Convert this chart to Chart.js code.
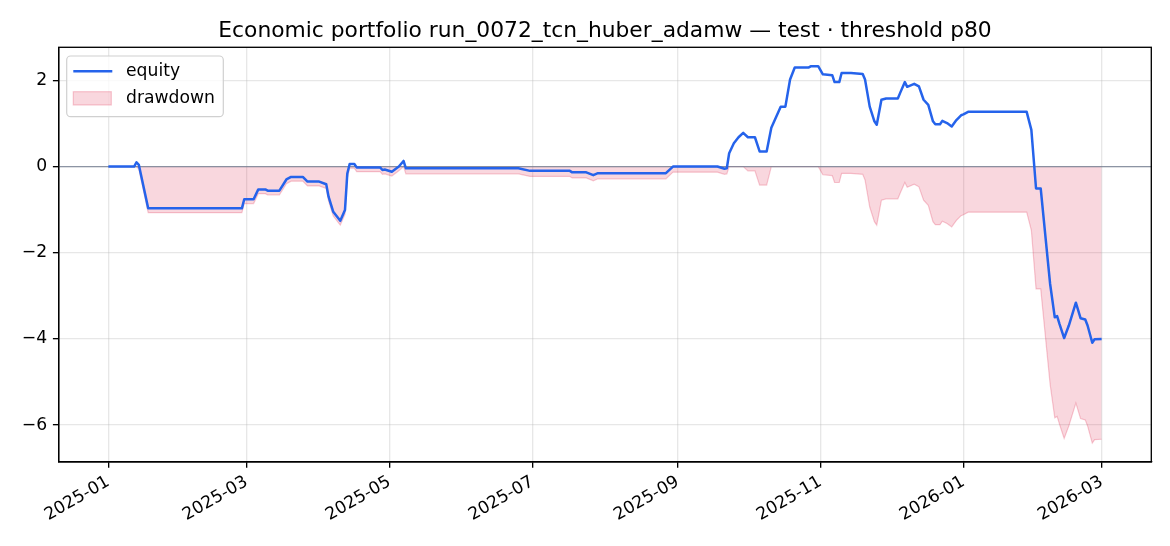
<!DOCTYPE html>
<html><head><meta charset="utf-8">
<script src="https://cdn.jsdelivr.net/npm/chart.js@4.4.1/dist/chart.umd.min.js"></script>
<style>html,body{margin:0;padding:0;background:#fff;}#wrap{width:1170px;height:546px;}</style>
</head><body><div id="wrap"><canvas id="c" width="1170" height="546"></canvas></div>
<script>
const TITLE = "Economic portfolio run_0072_tcn_huber_adamw — test · threshold p80";
const seriesLabels = ["equity", "drawdown"];
const xTickLabels = ["2025-01","2025-03","2025-05","2025-07","2025-09","2025-11","2026-01","2026-03"];
const yTickValues = [-6, -4, -2, 0, 2];

const dates = [
"2025-01-01","2025-01-12","2025-01-13","2025-01-14","2025-01-18","2025-02-27","2025-02-28","2025-03-04","2025-03-06","2025-03-09",
"2025-03-10","2025-03-15","2025-03-18","2025-03-20","2025-03-25","2025-03-27","2025-04-01","2025-04-04","2025-04-05","2025-04-07",
"2025-04-10","2025-04-12","2025-04-13","2025-04-14","2025-04-16","2025-04-17","2025-04-27","2025-04-28","2025-04-29","2025-05-02",
"2025-05-05","2025-05-07","2025-05-08","2025-06-25","2025-06-30","2025-07-17","2025-07-18","2025-07-24","2025-07-27","2025-07-29",
"2025-08-27","2025-08-30","2025-09-18","2025-09-21","2025-09-22","2025-09-23","2025-09-25","2025-09-27","2025-09-29","2025-10-01",
"2025-10-04","2025-10-06","2025-10-09","2025-10-11","2025-10-15","2025-10-17","2025-10-19","2025-10-21","2025-10-27","2025-10-28",
"2025-10-31","2025-11-02","2025-11-06","2025-11-07","2025-11-09","2025-11-10","2025-11-14","2025-11-19","2025-11-20","2025-11-22",
"2025-11-24","2025-11-25","2025-11-27","2025-11-29","2025-12-04","2025-12-05","2025-12-07","2025-12-08","2025-12-11","2025-12-13",
"2025-12-15","2025-12-17","2025-12-19","2025-12-20","2025-12-22","2025-12-23","2025-12-25","2025-12-27","2025-12-29","2025-12-31",
"2026-01-01","2026-01-03","2026-01-28","2026-01-30","2026-02-01","2026-02-03","2026-02-06","2026-02-07","2026-02-09","2026-02-10",
"2026-02-11","2026-02-13","2026-02-15","2026-02-18","2026-02-20","2026-02-22","2026-02-23","2026-02-25","2026-02-26","2026-03-01"
];

const equity = [
0.00,0.00,0.10,0.04,-0.97,-0.97,-0.76,-0.76,-0.53,-0.53,
-0.56,-0.56,-0.30,-0.24,-0.24,-0.35,-0.35,-0.41,-0.70,-1.05,
-1.26,-1.01,-0.16,0.06,0.06,-0.02,-0.02,-0.08,-0.07,-0.12,
0.00,0.13,-0.04,-0.04,-0.10,-0.10,-0.135,-0.135,-0.20,-0.155,
-0.155,0.00,0.00,-0.05,-0.04,0.31,0.54,0.68,0.78,0.68,
0.68,0.35,0.35,0.90,1.39,1.39,2.02,2.30,2.30,2.33,
2.33,2.14,2.12,1.96,1.96,2.17,2.17,2.15,2.02,1.39,
1.05,0.97,1.55,1.58,1.58,1.71,1.96,1.85,1.92,1.86,
1.55,1.43,1.05,0.98,0.98,1.06,1.01,0.93,1.08,1.19,
1.21,1.27,1.27,0.85,-0.51,-0.51,-2.17,-2.72,-3.50,-3.47,
-3.65,-3.98,-3.69,-3.16,-3.52,-3.55,-3.69,-4.09,-4.01,-4.00
];

const drawdown = [
0.00,0.00,0.00,-0.06,-1.07,-1.07,-0.86,-0.86,-0.63,-0.63,
-0.66,-0.66,-0.40,-0.34,-0.34,-0.45,-0.45,-0.51,-0.80,-1.15,
-1.36,-1.11,-0.26,-0.04,-0.04,-0.12,-0.12,-0.18,-0.17,-0.22,
-0.10,0.00,-0.17,-0.17,-0.23,-0.23,-0.265,-0.265,-0.33,-0.285,
-0.285,-0.13,-0.13,-0.18,-0.17,0.00,0.00,0.00,0.00,-0.10,
-0.10,-0.43,-0.43,0.00,0.00,0.00,0.00,0.00,0.00,0.00,
0.00,-0.19,-0.21,-0.37,-0.37,-0.16,-0.16,-0.18,-0.31,-0.94,
-1.28,-1.36,-0.78,-0.75,-0.75,-0.62,-0.37,-0.48,-0.41,-0.47,
-0.78,-0.90,-1.28,-1.35,-1.35,-1.27,-1.32,-1.40,-1.25,-1.14,
-1.12,-1.06,-1.06,-1.48,-2.84,-2.84,-4.50,-5.05,-5.83,-5.80,
-5.98,-6.31,-6.02,-5.49,-5.85,-5.88,-6.02,-6.42,-6.34,-6.33
];

const DAY = 86400000;
const t0 = Date.parse(dates[0] + "T00:00:00Z");
const toDay = s => (Date.parse(s + "T00:00:00Z") - t0) / DAY;
const xs = dates.map(toDay);
const xTickValues = xTickLabels.map(s => toDay(s + "-01"));
const xSpan = xs[xs.length - 1] - xs[0];
const allY = equity.concat(drawdown);
const yLo = Math.min(...allY), yHi = Math.max(...allY), ySpan = yHi - yLo;

const FONT = "'DejaVu Sans', sans-serif";
const TICK_SIZE = 17.2;
const BLUE = "#2563eb";
const PINK_FILL = "rgba(220,20,60,0.17)";
const PINK_EDGE = "rgba(220,20,60,0.22)";

const decor = {
  id: "decor",
  afterDatasetDraw(chart, args) {
    if (args.index !== 1) return;
    const {ctx, chartArea: a} = chart;
    const y0 = chart.scales.y.getPixelForValue(0);
    ctx.save();
    ctx.strokeStyle = "rgba(110,120,140,0.75)";
    ctx.lineWidth = 1.2;
    ctx.beginPath(); ctx.moveTo(a.left, y0); ctx.lineTo(a.right, y0); ctx.stroke();
    ctx.restore();
  },
  afterDraw(chart) {
    const {ctx, chartArea: a} = chart;
    ctx.save();
    ctx.strokeStyle = "#000"; ctx.lineWidth = 1.33;
    ctx.strokeRect(a.left, a.top, a.right - a.left, a.bottom - a.top);
    // title
    ctx.fillStyle = "#000"; ctx.font = "21.8px " + FONT; ctx.textAlign = "center"; ctx.textBaseline = "alphabetic";
    ctx.fillText(TITLE, (a.left + a.right) / 2, a.top - 10.5);
    // legend
    const bx = a.left + 8, by = a.top + 8.7, bw = 156.6, bh = 60.7, r = 4;
    ctx.beginPath();
    ctx.moveTo(bx + r, by); ctx.lineTo(bx + bw - r, by); ctx.arcTo(bx + bw, by, bx + bw, by + r, r);
    ctx.lineTo(bx + bw, by + bh - r); ctx.arcTo(bx + bw, by + bh, bx + bw - r, by + bh, r);
    ctx.lineTo(bx + r, by + bh); ctx.arcTo(bx, by + bh, bx, by + bh - r, r);
    ctx.lineTo(bx, by + r); ctx.arcTo(bx, by, bx + r, by, r); ctx.closePath();
    ctx.fillStyle = "rgba(255,255,255,0.8)"; ctx.fill();
    ctx.strokeStyle = "#d0d0d0"; ctx.lineWidth = 1.2; ctx.stroke();
    ctx.strokeStyle = BLUE; ctx.lineWidth = 2.5; ctx.lineCap = "butt";
    ctx.beginPath(); ctx.moveTo(bx + 6.6, by + 15.2); ctx.lineTo(bx + 45.6, by + 15.2); ctx.stroke();
    ctx.fillStyle = PINK_FILL; ctx.fillRect(bx + 6.6, by + 35.7, 38, 13.3);
    ctx.strokeStyle = PINK_EDGE; ctx.lineWidth = 1.2; ctx.strokeRect(bx + 6.6, by + 35.7, 38, 13.3);
    ctx.fillStyle = "#000"; ctx.font = TICK_SIZE + "px " + FONT; ctx.textBaseline = "middle"; ctx.textAlign = "left";
    ctx.fillText(seriesLabels[0], bx + 59.3, by + 15.5);
    ctx.fillText(seriesLabels[1], bx + 59.3, by + 42.5);
    ctx.restore();
  }
};

new Chart(document.getElementById("c"), {
  type: "line",
  data: {
    datasets: [
      { label: seriesLabels[0], data: xs.map((x, i) => ({x, y: equity[i]})), borderColor: BLUE, borderWidth: 2.5,
        pointRadius: 0, tension: 0, fill: false, order: 0, borderJoinStyle: "round" },
      { label: seriesLabels[1], data: xs.map((x, i) => ({x, y: drawdown[i]})), borderColor: PINK_EDGE, borderWidth: 1.2,
        backgroundColor: PINK_FILL, pointRadius: 0, tension: 0, fill: "origin", order: 1 }
    ]
  },
  options: {
    responsive: false, animation: false, devicePixelRatio: 1,
    layout: { padding: { left: 0, right: 18.7, top: 47.3, bottom: 0 } },
    plugins: { legend: { display: false }, tooltip: { enabled: false }, title: { display: false } },
    scales: {
      x: {
        type: "linear", min: xs[0] - 0.05 * xSpan, max: xs[xs.length - 1] + 0.05 * xSpan,
        afterBuildTicks: s => { s.ticks = xTickValues.map(v => ({value: v})); },
        afterFit: s => { s.height = 84; },
        grid: { color: "rgba(176,176,176,0.3)", lineWidth: 1.33, tickColor: "#000", tickLength: 5.8, tickWidth: 1.33 },
        border: { display: true, color: "#000", width: 1.33 },
        ticks: { autoSkip: false, minRotation: 30, maxRotation: 30, color: "#000", padding: 4,
                 font: { family: FONT, size: TICK_SIZE },
                 callback: (v) => { const i = xTickValues.indexOf(v); return i >= 0 ? xTickLabels[i] : ""; } }
      },
      y: {
        type: "linear", min: yLo - 0.05 * ySpan, max: yHi + 0.05 * ySpan,
        afterBuildTicks: s => { s.ticks = yTickValues.map(v => ({value: v})); },
        afterFit: s => { s.width = 58.7; },
        grid: { color: "rgba(176,176,176,0.3)", lineWidth: 1.33, tickColor: "#000", tickLength: 5.8, tickWidth: 1.33 },
        border: { display: true, color: "#000", width: 1.33 },
        ticks: { color: "#000", padding: 5.8, font: { family: FONT, size: TICK_SIZE },
                 callback: v => (v < 0 ? "\u2212" + Math.abs(v) : String(v)) }
      }
    }
  },
  plugins: [decor]
});
</script></body></html>
